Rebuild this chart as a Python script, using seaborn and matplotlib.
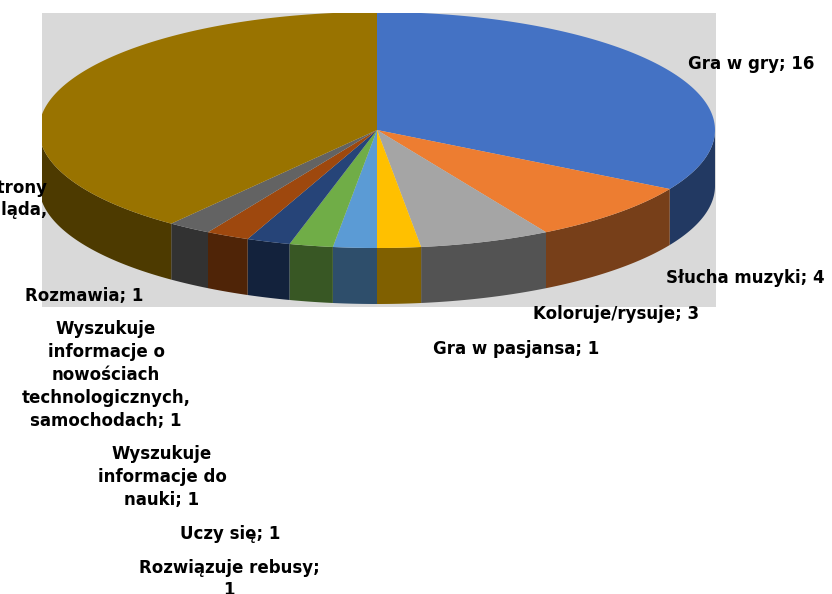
import numpy as np
import matplotlib
matplotlib.use("Agg")
import matplotlib.pyplot as plt
from matplotlib.patches import Polygon, Rectangle
import seaborn as sns

# slice data (clockwise from 12 o'clock)
labels = [
    "Gra w gry; 16",
    "Słucha muzyki; 4",
    "Koloruje/rysuje; 3",
    "Gra w pasjansa; 1",
    "Rozwiązuje rebusy;\n1",
    "Uczy się; 1",
    "Wyszukuje\ninformacje do\nnauki; 1",
    "Wyszukuje\ninformacje o\nnowościach\ntechnologicznych,\nsamochodach; 1",
    "Rozmawia; 1",
    "Przegląda strony\nInternet, ogląda,",
]
values = [16, 4, 3, 1, 1, 1, 1, 1, 1, 19]
colors = ["#4472C4", "#ED7D31", "#A5A5A5", "#FFC000", "#5B9BD5",
          "#70AD47", "#264478", "#9E480E", "#636363", "#997300"]

# label anchor positions in pixels (layout)
label_pos = [(751, 64), (745, 278), (616, 314), (516, 349), (229, 579),
             (230, 534), (162, 477), (106, 375), (84, 296), (47, 199)]

sns.set_theme(style="white")
plt.rcParams["font.family"] = ["DejaVu Sans"]

W, H = 832, 594
fig = plt.figure(figsize=(W / 100, H / 100), dpi=100)
ax = fig.add_axes([0, 0, 1, 1])
ax.set_xlim(0, W)
ax.set_ylim(H, 0)
ax.axis("off")

# plot area
bg = Rectangle((42, 13), 674, 294, facecolor="#D9D9D9", edgecolor="none", zorder=0)
ax.add_patch(bg)

cx, cy, a, b, depth = 377, 130, 338, 118, 56
total = sum(values)


def rim(t0, t1, n=120):
    t = np.linspace(t0, t1, n)
    return cx + a * np.cos(t), cy - b * np.sin(t)


def darker(c, f=0.5):
    r, g, bb = matplotlib.colors.to_rgb(c)
    return (r * f, g * f, bb * f)


start = np.pi / 2
angles = []
for v in values:
    end = start - 2 * np.pi * v / total
    angles.append((start, end))
    start = end

# side walls (only the front half shows)
for (t0, t1), c in zip(angles, colors):
    lo, hi = min(t0, t1), max(t0, t1)
    for k in (-2 * np.pi, 0):
        s0, s1 = max(lo, -np.pi + k), min(hi, 0 + k)
        if s1 > s0:
            xs, ys = rim(s0, s1)
            pts = np.column_stack([np.r_[xs, xs[::-1]], np.r_[ys, ys[::-1] + depth]])
            p = Polygon(pts, closed=True, facecolor=darker(c), edgecolor="none", zorder=1)
            ax.add_patch(p)
            p.set_clip_path(bg)

# top faces
for (t0, t1), c in zip(angles, colors):
    xs, ys = rim(t0, t1)
    pts = np.column_stack([np.r_[cx, xs], np.r_[cy, ys]])
    p = Polygon(pts, closed=True, facecolor=c, edgecolor="none", zorder=2)
    ax.add_patch(p)
    p.set_clip_path(bg)

for i, (lab, (x, y)) in enumerate(zip(labels, label_pos)):
    ha = "right" if i == len(labels) - 1 else "center"
    ax.text(x, y, lab, ha=ha, va="center", multialignment=ha,
            fontsize=12, fontweight="bold", color="black",
            linespacing=1.35, zorder=3)

fig.savefig("out.png", dpi=100)
